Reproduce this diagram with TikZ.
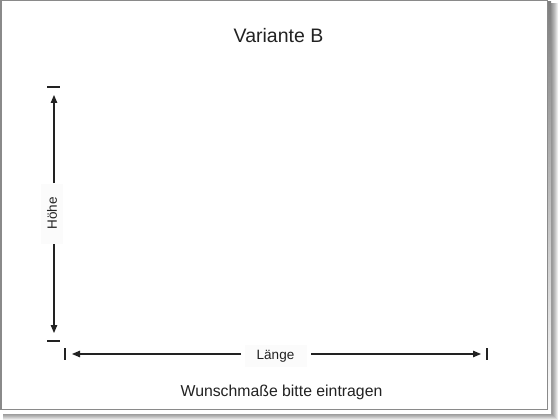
\documentclass[tikz,border=0pt]{standalone}
\usepackage{fontspec}
\setmainfont{Liberation Sans}
\usetikzlibrary{arrows.meta}
\definecolor{ink}{HTML}{222222}
\definecolor{framec}{HTML}{8A8A8A}
\definecolor{shade}{HTML}{4A4A4A}
\definecolor{labbg}{HTML}{FBFBFB}
\begin{document}
\begin{tikzpicture}[x=1pt,y=-1pt,
  dimline/.style={draw=ink,line width=1.2pt,-{Triangle[length=8pt,width=6.5pt]}},
  tickmark/.style={draw=ink,line width=1.5pt},
  lab/.style={font=\fontsize{13.5}{16}\selectfont,text=ink,fill=labbg,inner sep=0pt},
  txt/.style={text=ink,inner sep=0pt,anchor=base}]
\useasboundingbox (0,0) rectangle (560,420);
% shadow and frame
\foreach \k in {1,...,8} \fill[black,opacity=0.08] (3,3) rectangle (550+\k,412+\k);
\fill[shade] (2,2) rectangle (551,413);
\filldraw[fill=white,draw=framec,line width=1.5pt] (0.75,0.75) rectangle (547.5,409.5);
% texts
\node[txt,font=\fontsize{19.5}{23}\selectfont] (title) at (278.5,43) {Variante B};
\node[txt,font=\fontsize{15.8}{19}\selectfont] (note) at (281.5,396) {Wunschmaße bitte eintragen};
% vertical dimension
\coordinate (vta) at (47,87);
\coordinate (vtb) at (60,87);
\coordinate (vba) at (47,341);
\coordinate (vbb) at (60,341);
\draw[tickmark] (vta) -- (vtb);
\draw[tickmark] (vba) -- (vbb);
\node[lab,rotate=90,minimum width=60pt,minimum height=22pt] (hoehe) at (52,213.5) {Höhe};
\coordinate (vga) at (54,183);
\coordinate (vgb) at (54,244);
\coordinate (vtip1) at (54,95);
\coordinate (vtip2) at (54,333);
\draw[dimline] (vga) -- (vtip1);
\draw[dimline] (vgb) -- (vtip2);
% horizontal dimension
\coordinate (hla) at (65,348);
\coordinate (hlb) at (65,360);
\coordinate (hra) at (487,348);
\coordinate (hrb) at (487,360);
\draw[tickmark] (hla) -- (hlb);
\draw[tickmark] (hra) -- (hrb);
\node[lab,minimum width=62pt,minimum height=22pt] (laenge) at (275.5,356) {Länge};
\coordinate (hga) at (241,354);
\coordinate (hgb) at (311,354);
\coordinate (htip1) at (72,354);
\coordinate (htip2) at (481,354);
\draw[dimline] (hga) -- (htip1);
\draw[dimline] (hgb) -- (htip2);
\end{tikzpicture}
\end{document}
